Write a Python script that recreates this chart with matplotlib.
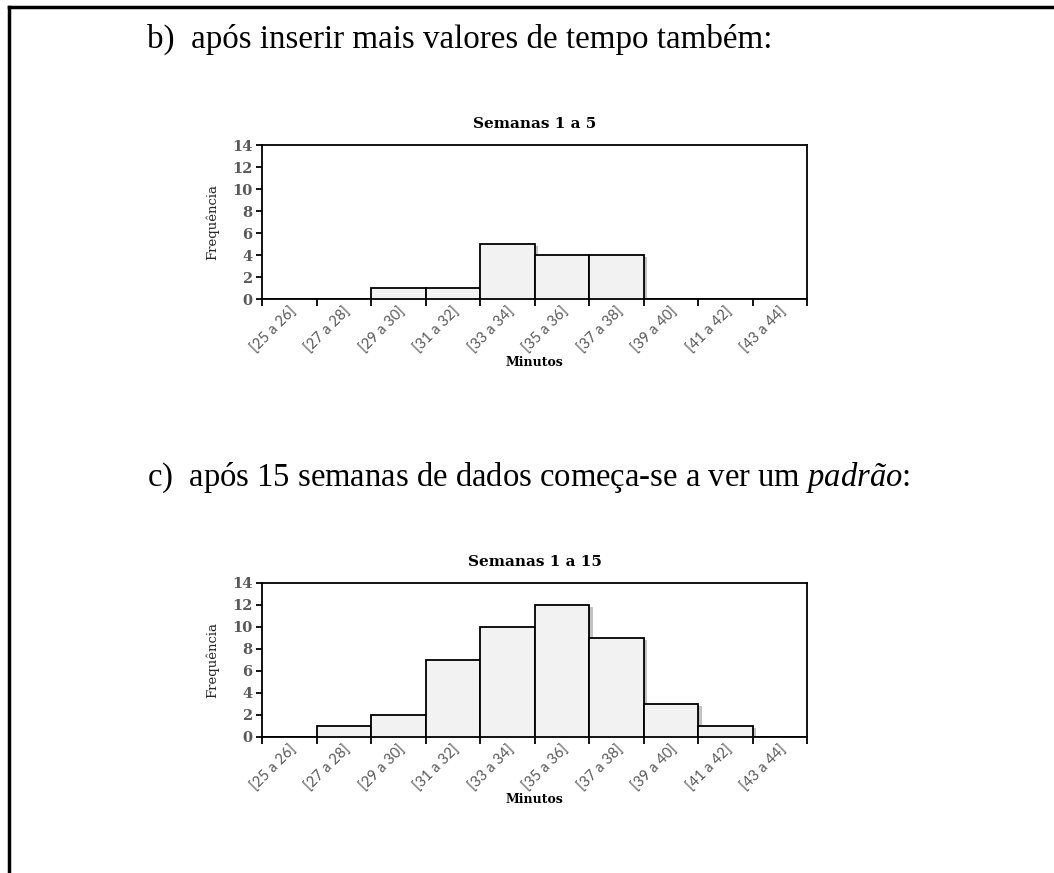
import numpy as np
import matplotlib
matplotlib.use("Agg")
import matplotlib.pyplot as plt
import matplotlib.patheffects as pe

plt.rcParams["mathtext.fontset"] = "custom"
plt.rcParams["mathtext.rm"] = "Liberation Serif"
plt.rcParams["mathtext.it"] = "Liberation Serif:italic"

# dados
classes = ["[25 a 26]", "[27 a 28]", "[29 a 30]", "[31 a 32]", "[33 a 34]",
           "[35 a 36]", "[37 a 38]", "[39 a 40]", "[41 a 42]", "[43 a 44]"]
freq_sem_1_5 = [0, 0, 1, 1, 5, 4, 4, 0, 0, 0]
freq_sem_1_15 = [0, 1, 2, 7, 10, 12, 9, 3, 1, 0]
y_ticks = [0, 2, 4, 6, 8, 10, 12, 14]

fig = plt.figure(figsize=(10.54, 8.73), dpi=100)

# moldura da página (só esquerda e topo)
fig.add_artist(plt.Line2D([0.0085, 0.0085], [0, 0.992], color="black", lw=2.5,
                          transform=fig.transFigure))
fig.add_artist(plt.Line2D([0.0085, 1.0], [0.992, 0.992], color="black", lw=2.5,
                          transform=fig.transFigure))

fig.text(0.139, 0.955, "b)  após inserir mais valores de tempo também:",
         family="Liberation Serif", fontsize=23.8, va="center", ha="left")
fig.text(0.139, 0.4525, "c)  após 15 semanas de dados começa-se a ver um $\\mathit{padrão}$:",
         family="Liberation Serif", fontsize=23.5, va="center", ha="left")


def histograma(rect, valores, titulo):
    ax = fig.add_axes(rect)
    x = np.arange(len(classes))
    bars = ax.bar(x, valores, width=1, align="edge", color="#f2f2f2",
                  edgecolor="black", linewidth=1.3, zorder=3)
    for b in bars:
        b.set_path_effects([pe.SimplePatchShadow(offset=(2.5, -1.5), shadow_rgbFace="#888888", alpha=0.5),
                            pe.Normal()])
    ax.set_xlim(0, len(classes))
    ax.set_ylim(0, 14)
    ax.set_xticks(np.arange(len(classes) + 1))
    ax.set_xticklabels([])
    ax.set_xticks(x + 0.5, minor=True)
    ax.set_xticklabels(classes, minor=True, rotation=45, ha="right",
                       rotation_mode="anchor", family="Lato", fontsize=10.5, color="#595959")
    ax.tick_params(axis="x", which="minor", length=0, pad=4)
    ax.tick_params(axis="x", which="major", length=5, width=1.3, direction="out")
    ax.set_yticks(y_ticks)
    ax.set_yticklabels([str(v) for v in y_ticks], family="DejaVu Serif",
                       fontsize=10.5, color="#595959", fontweight="bold")
    ax.tick_params(axis="y", length=4, width=1.3, direction="out", pad=3)
    for s in ax.spines.values():
        s.set_linewidth(1.3)
    ax.set_title(titulo, family="DejaVu Serif", fontweight="bold", fontsize=11, pad=12)
    ax.set_xlabel("Minutos", family="DejaVu Serif", fontweight="bold", fontsize=9, labelpad=0)
    ax.set_ylabel("Frequência", family="DejaVu Serif", fontsize=9.5, labelpad=9, color="#262626")
    return ax


histograma([0.2486, 0.6575, 0.5171, 0.1764], freq_sem_1_5, "Semanas 1 a 5")
histograma([0.2486, 0.1558, 0.5171, 0.1764], freq_sem_1_15, "Semanas 1 a 15")

fig.savefig("out.png", dpi=100)
